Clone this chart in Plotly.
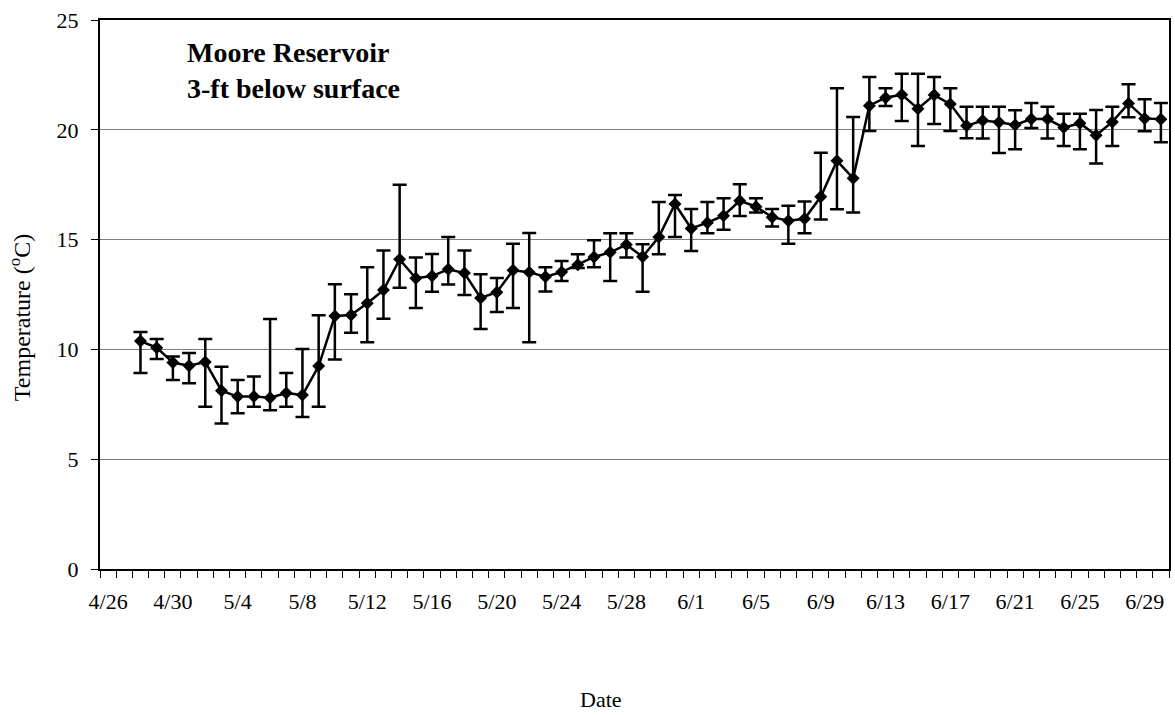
import pandas as pd
import plotly.graph_objects as go

YEAR = 2000

# Daily mean temperature at 3 ft depth with daily max/min (error bar ends)
dates = [
    "4/28", "4/29", "4/30", "5/1", "5/2", "5/3", "5/4", "5/5", "5/6", "5/7",
    "5/8", "5/9", "5/10", "5/11", "5/12", "5/13", "5/14", "5/15", "5/16", "5/17",
    "5/18", "5/19", "5/20", "5/21", "5/22", "5/23", "5/24", "5/25", "5/26", "5/27",
    "5/28", "5/29", "5/30", "5/31", "6/1", "6/2", "6/3", "6/4", "6/5", "6/6",
    "6/7", "6/8", "6/9", "6/10", "6/11", "6/12", "6/13", "6/14", "6/15", "6/16",
    "6/17", "6/18", "6/19", "6/20", "6/21", "6/22", "6/23", "6/24", "6/25", "6/26",
    "6/27", "6/28", "6/29", "6/30",
]
temp_mean = [
    10.38, 10.08, 9.40, 9.26, 9.43, 8.12, 7.85, 7.86, 7.80, 8.01,
    7.92, 9.24, 11.52, 11.57, 12.10, 12.70, 14.10, 13.24, 13.34, 13.65,
    13.48, 12.34, 12.60, 13.60, 13.51, 13.31, 13.52, 13.86, 14.21, 14.42,
    14.77, 14.22, 15.12, 16.62, 15.51, 15.77, 16.09, 16.77, 16.50, 16.02,
    15.86, 15.95, 16.95, 18.59, 17.79, 21.10, 21.46, 21.60, 20.96, 21.58,
    21.17, 20.18, 20.42, 20.34, 20.22, 20.49, 20.49, 20.10, 20.30, 19.75,
    20.36, 21.20, 20.52, 20.48,
]
temp_high = [
    10.79, 10.47, 9.68, 9.84, 10.47, 9.21, 8.61, 8.77, 11.38, 8.93,
    10.02, 11.55, 12.97, 12.51, 13.74, 14.50, 17.50, 14.19, 14.34, 15.12,
    14.50, 13.42, 13.25, 14.81, 15.30, 13.74, 14.03, 14.33, 14.97, 15.29,
    15.29, 14.79, 16.71, 17.03, 16.39, 16.71, 16.88, 17.52, 16.88, 16.39,
    16.54, 16.73, 18.96, 21.89, 20.58, 22.40, 21.89, 22.55, 22.55, 22.40,
    21.89, 21.05, 21.05, 21.05, 20.89, 21.22, 21.05, 20.73, 20.73, 20.90,
    21.05, 22.07, 21.39, 21.22,
]
temp_low = [
    8.93, 9.56, 8.61, 8.46, 7.39, 6.62, 7.09, 7.39, 7.23, 7.39,
    6.92, 7.39, 9.54, 10.76, 10.32, 11.40, 12.81, 11.89, 12.63, 12.96,
    12.48, 10.93, 11.70, 11.89, 10.32, 12.64, 13.11, 13.71, 13.74, 13.11,
    14.19, 12.63, 14.33, 15.12, 14.48, 15.29, 15.45, 16.07, 16.23, 15.60,
    14.81, 15.29, 15.92, 16.38, 16.23, 19.95, 21.08, 20.40, 19.26, 20.26,
    19.95, 19.62, 19.60, 18.94, 19.11, 20.08, 19.60, 19.26, 19.11, 18.46,
    19.26, 20.57, 19.93, 19.43,
]

tick_labels = ["4/26", "4/30", "5/4", "5/8", "5/12", "5/16", "5/20", "5/24",
               "5/28", "6/1", "6/5", "6/9", "6/13", "6/17", "6/21", "6/25", "6/29"]
y_ticks = [0, 5, 10, 15, 20, 25]

FONT = "Liberation Serif"


def to_day(label):
    return pd.to_datetime(f"{YEAR}/{label}", format="%Y/%m/%d")


# each day's value sits in the middle of its one-day slot
half_day = pd.Timedelta(hours=12)
x_days = [to_day(d) + half_day for d in dates]
tick_pos = [to_day(t) + half_day for t in tick_labels]

err_plus = [h - m for h, m in zip(temp_high, temp_mean)]
err_minus = [m - l for m, l in zip(temp_mean, temp_low)]

fig = go.Figure()
fig.add_trace(go.Scatter(
    x=x_days,
    y=temp_mean,
    mode="lines+markers",
    line=dict(color="black", width=2.5),
    marker=dict(symbol="diamond", size=10, color="black"),
    error_y=dict(
        type="data",
        symmetric=False,
        array=err_plus,
        arrayminus=err_minus,
        color="black",
        thickness=2.5,
        width=7,
    ),
    showlegend=False,
))

fig.update_layout(
    width=1175,
    height=715,
    margin=dict(l=100, r=4, t=20, b=146),
    paper_bgcolor="white",
    plot_bgcolor="white",
    font=dict(family=FONT, size=21, color="black"),
    showlegend=False,
)

fig.update_xaxes(
    type="date",
    range=[to_day("4/26"), to_day("7/1")],
    tickmode="array",
    tickvals=tick_pos,
    ticktext=tick_labels,
    ticks="",
    ticklabelstandoff=12,
    tickfont=dict(size=22),
    showgrid=False,
    showline=True,
    linecolor="black",
    linewidth=2,
    mirror=True,
    zeroline=False,
    minor=dict(
        ticks="outside",
        ticklen=7,
        tickwidth=1,
        tickcolor="black",
        dtick=86400000,
        tick0=to_day("4/26"),
        showgrid=False,
    ),
)

fig.update_yaxes(
    range=[0, 25],
    tickmode="array",
    tickvals=y_ticks,
    ticks="outside",
    ticklen=7,
    tickwidth=1,
    tickcolor="black",
    ticklabelstandoff=8,
    tickfont=dict(size=22),
    showgrid=True,
    gridcolor="#808080",
    gridwidth=1,
    showline=True,
    linecolor="black",
    linewidth=2,
    mirror=True,
    zeroline=False,
)

fig.add_annotation(
    text="<b>Moore Reservoir<br>3-ft below surface</b>",
    xref="paper", yref="paper",
    x=(185 - 100) / 1071, y=1 - (35 - 20) / 549,
    xanchor="left", yanchor="top",
    align="left",
    showarrow=False,
    font=dict(family=FONT, size=28, color="black"),
)

fig.add_annotation(
    text="Temperature (<sup>o</sup>C)",
    xref="paper", yref="paper",
    x=(20 - 100) / 1071, y=(569 - 318) / 549,
    xanchor="center", yanchor="middle",
    textangle=-90,
    showarrow=False,
    font=dict(family=FONT, size=24, color="black"),
)

fig.add_annotation(
    text="Date",
    xref="paper", yref="paper",
    x=(602 - 100) / 1071, y=-(700 - 569) / 549,
    xanchor="center", yanchor="middle",
    showarrow=False,
    font=dict(family=FONT, size=22, color="black"),
)

fig.write_html("out.html")
